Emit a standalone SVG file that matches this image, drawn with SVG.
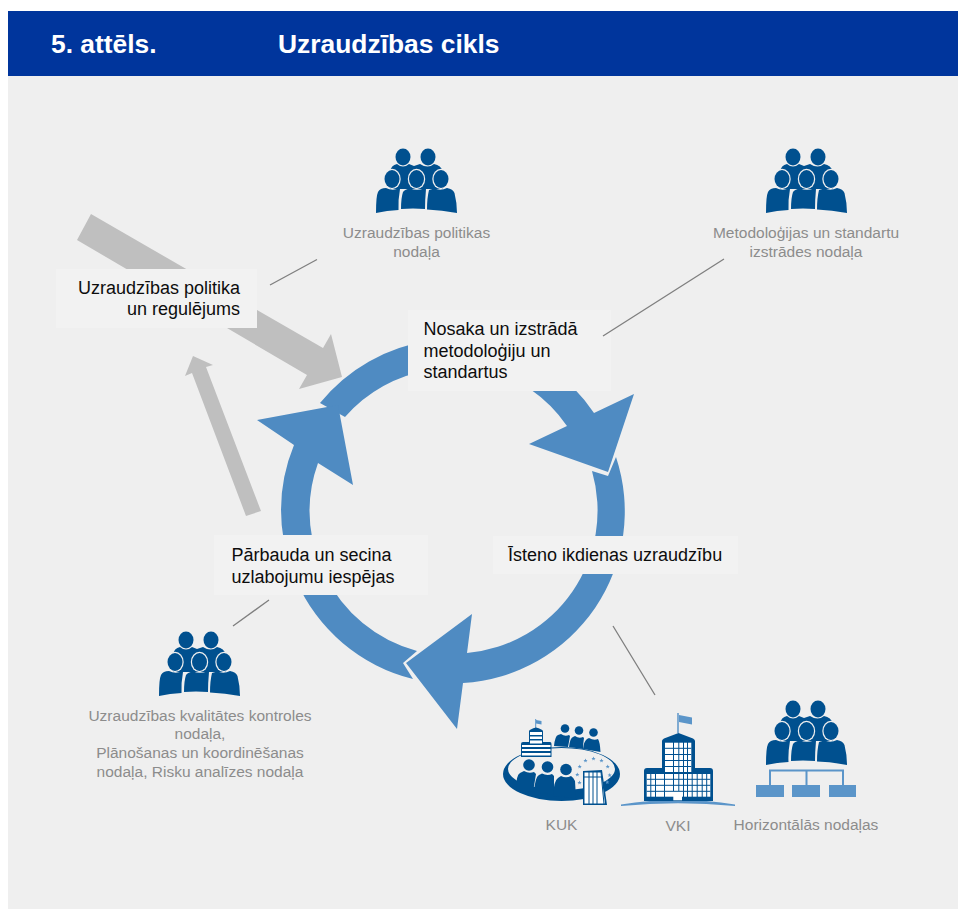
<svg xmlns="http://www.w3.org/2000/svg" width="958" height="911" viewBox="0 0 958 911">
<style>
text{font-family:"Liberation Sans",Arial,sans-serif}
.lbl{font-size:18px;fill:#0d0d0d}
.cap{font-size:15.500px;fill:#8c8c8c;text-anchor:middle}
.hd{font-size:26.400px;font-weight:bold;fill:#fff}
.box{fill:#f2f2f2}
.ring{fill:#4f8bc2}
.grey{fill:#bfbfbf}
.ln{stroke:#7f7f7f;stroke-width:1.3;fill:none}
.dk{fill:#00508f}
.lb{fill:#5b95c9}
.wl{stroke:#00508f;stroke-width:1;fill:none}
.wh{fill:#fff}
</style>
<defs>
<g id="people">
<ellipse class="dk" cx="27" cy="9" rx="7.500" ry="8.500"/>
<ellipse class="dk" cx="52" cy="9" rx="7.500" ry="8.500"/>
<path class="dk" d="M14,24Q15,17 21,16Q27,21 33,16L38,18L44,16Q52,21 58,16Q65,17 67,24V41H14Z"/>
<ellipse fill="#efefef" cx="16" cy="31" rx="8.700" ry="10.200"/>
<ellipse fill="#efefef" cx="40.500" cy="31" rx="8.700" ry="10.200"/>
<ellipse fill="#efefef" cx="65" cy="31" rx="8.700" ry="10.200"/>
<ellipse class="dk" cx="16" cy="31" rx="7.500" ry="9"/>
<ellipse class="dk" cx="40.500" cy="31" rx="7.500" ry="9"/>
<ellipse class="dk" cx="65" cy="31" rx="7.500" ry="9"/>
<path class="dk" d="M0,65Q0,48 2,44Q4,40 10,40Q16,43 23,40.500L24,41Q22,52 22.500,62Q11,62.500 0,65Z"/>
<path class="dk" d="M25,61Q25,50 27,44Q29,41 34,40.500Q41,43 48,40.500L50,41Q49,52 49,61Q37,60 25,61Z"/>
<path class="dk" d="M51,61.500Q51,50 53,42L58,40.500Q65,43 71,40Q77,41 78.500,45Q81,55 81,65Q66,62 51,61.500Z"/>
</g>
<path id="star" d="M0,-2.200L.6,-.7 2.100,-.7 .9,.3 1.300,1.800 0,.9-1.300,1.800-.9,.3-2.100,-.7-.6,-.7Z" fill="#5b95c9"/>
</defs>
<rect width="958" height="911" fill="#fff"/>
<rect id="panel" x="8" y="76" width="950" height="833" fill="#efefef"/>
<g id="header">
<rect x="8" y="11" width="950" height="65" fill="#00359c"/>
<text class="hd" x="51" y="53">5. attēls.</text>
<text class="hd" x="278" y="53">Uzraudzības cikls</text>
</g>
<g id="connectors">
<path class="grey" d="M91,214 323,348 331,334 342,377 299,389 307,375 77,240Z"/>
<path class="grey" d="M246,516 261,511 206,367 213,365 193,356 185,376 192,373Z"/>
<path class="ring" d="M430,340.700A172,172 0 0 0 320,403L345,417A143,143 0 0 1 430,370Z"/>
<path class="ring" d="M550,368A172,172 0 0 1 594,413L634,394 608,472 529,444 567,426A143,143 0 0 0 530,389Z"/>
<path class="ring" d="M616,457A172,172 0 0 1 463,683L457,729 406,663 472,614 467,653A143,143 0 0 0 592,471L608,476Z"/>
<path class="ring" d="M296,580A172,172 0 0 0 413,679L403,663 417,651A143,143 0 0 1 325,575Z"/>
<path class="ring" d="M283.700,540A172,172 0 0 1 294,445L257,420 338,405 353,485 318,463A143,143 0 0 0 312.500,540Z"/>
</g>
<g id="node-policy">
<rect class="box" x="56" y="269" width="201" height="59"/>
<text class="lbl" text-anchor="end" x="240" y="294">Uzraudzības politika</text>
<text class="lbl" text-anchor="end" x="240" y="315">un regulējums</text>
</g>
<g id="node-method">
<rect class="box" x="408" y="310" width="203" height="81"/>
<text class="lbl" x="423.500" y="335">Nosaka un izstrādā</text>
<text class="lbl" x="423.500" y="357">metodoloģiju un</text>
<text class="lbl" x="423.500" y="378">standartus</text>
</g>
<g id="node-check">
<rect class="box" x="214" y="535" width="214" height="60"/>
<text class="lbl" x="231.500" y="561">Pārbauda un secina</text>
<text class="lbl" x="231.500" y="583">uzlabojumu iespējas</text>
</g>
<g id="node-daily">
<rect class="box" x="493" y="536" width="245" height="38"/>
<text class="lbl" x="508" y="561">Īsteno ikdienas uzraudzību</text>
</g>
<g id="leader-lines">
<path class="ln" d="M270,285 317,259.500M603,336 724,259M233,626 269,600M613,626 655,695"/>
</g>
<g id="node-policy-dept">
<use href="#people" x="376" y="148"/>
<text class="cap" x="416.500" y="238">Uzraudzības politikas</text>
<text class="cap" x="416.500" y="257">nodaļa</text>
</g>
<g id="node-method-dept">
<use href="#people" x="766" y="148"/>
<text class="cap" x="806" y="238">Metodoloģijas un standartu</text>
<text class="cap" x="806" y="257">izstrādes nodaļa</text>
</g>
<g id="node-quality-dept">
<use href="#people" x="159" y="631"/>
<text class="cap" x="200" y="721">Uzraudzības kvalitātes kontroles</text>
<text class="cap" x="200" y="739">nodaļa,</text>
<text class="cap" x="200" y="758">Plānošanas un koordinēšanas</text>
<text class="cap" x="200" y="777">nodaļa, Risku analīzes nodaļa</text>
</g>
<g id="node-kuk">
<path class="dk" fill-rule="evenodd" d="M503,774A58.500,27 0 1 0 620,774A58.500,27 0 1 0 503,774ZM508,769A53.500,21 0 1 1 615,769A53.500,21 0 1 1 508,769Z"/>
<circle class="dk" cx="565" cy="728.500" r="4.300"/><circle class="dk" cx="579" cy="730.500" r="4.300"/><circle class="dk" cx="593.500" cy="732.500" r="4.300"/>
<path class="dk" d="M554,746Q555,736 558,735L561,734Q565,737 569,735L570,736Q569,742 568,747Z"/>
<path class="dk" d="M569,747Q570,738 573,737L575,736Q579,739 583,737L584,738Q583,744 583,749Z"/>
<path class="dk" d="M583,749Q584,741 587,739L589,738Q594,741 598,739Q600,742 600.500,752Z"/>
<path d="M535.700,719V728" stroke="#5b95c9" stroke-width="1" fill="none"/>
<path class="lb" d="M536,720 541.500,721V724.500L536,723.500Z"/>
<path class="dk" d="M529,742V731Q530,729 536,727.500Q542,729 543,731V742H550Q551.500,742 551.500,744V757H521V744Q521,742 523,742Z"/>
<path class="wh" d="M530,732H542V735H530ZM530,736.500H542V739H530ZM530,740.500H542V743.500H530ZM522,745H550.500V747H522ZM522,749H550.500V751H522ZM522,753H550.500V755.500H522Z"/>
<circle class="dk" cx="529" cy="765" r="5.800"/><circle class="dk" cx="547.500" cy="767" r="5.800"/><circle class="dk" cx="566" cy="769.500" r="5.800"/>
<path class="dk" d="M516,790Q516,775 520,773L524,771Q529,774 534,772L536,774 533,792Z"/>
<path class="dk" d="M534,792Q535,777 539,775L542,773.500Q547,776 552,774L554,776V795Z"/>
<path class="dk" d="M553,796Q554,780 558,778L561,776Q566,778.500 571,776Q574,778 575,781L576,798Z"/>
<use href="#star" x="585.500" y="760.700"/><use href="#star" x="593.500" y="758.700"/><use href="#star" x="601.500" y="760.700"/><use href="#star" x="607.700" y="766.700"/><use href="#star" x="609.700" y="775.300"/><use href="#star" x="607.300" y="782.300"/><use href="#star" x="579.700" y="766.700"/><use href="#star" x="577.300" y="774.700"/><use href="#star" x="579.500" y="782.700"/>
<path class="dk" d="M583,771 602,770 607,805H583Z"/>
<path class="wh" d="M584.500,772.500H601L605,803.500H584.500Z"/>
<path class="wl" d="M584,777H602M589,772V804M593,772V804M597,772V804M601,772L604,804"/>
<text class="cap" x="561.500" y="830">KUK</text>
</g>
<g id="node-vki">
<path class="lb" d="M621,804.500Q678,795 735,804.500L735,806Q678,800.500 621,806Z"/>
<path d="M678,713V733" stroke="#5b95c9" stroke-width="1.500" fill="none"/>
<path class="lb" d="M679,715 692,717.500V724.500L679,722Z"/>
<path class="dk" d="M644,801V771Q644,768 647,768H662V741Q662,739.500 664,738.500L678.500,733L693,738.500Q695,739.500 695,741V768H710Q713,768 713,771V801Z"/>
<rect class="wh" x="665" y="742.700" width="26.300" height="29.300"/>
<rect class="wh" x="646.700" y="774" width="63.600" height="22.700"/>
<rect class="wh" x="673.300" y="791.300" width="8.700" height="9"/>
<path class="wl" d="M673.500,742V772M678.800,742V772M683.500,742V772M687.500,742V772M665,748.300H691.300M665,754.500H691.300M665,760.500H691.300M665,766.500H691.300"/>
<path class="wl" d="M650.800,774V797M655.500,774V797M664.500,774V797M673.500,774V791M678.800,774V791M683.500,774V797M687.500,774V797M692.200,774V797M697.200,774V797M702.200,774V797M706.700,774V797M646.700,779.300H710.300M646.700,785.300H710.300M646.700,791.300H710.300"/>
<text class="cap" x="678" y="831">VKI</text>
</g>
<g id="node-horizontal">
<use href="#people" x="766" y="700"/>
<path d="M770,785V770.500H843V785M806.500,770.500V785" stroke="#5b95c9" stroke-width="2" fill="none"/>
<rect class="lb" x="756" y="785" width="28" height="12"/>
<rect class="lb" x="792" y="785" width="28" height="12"/>
<rect class="lb" x="829" y="785" width="27" height="12"/>
<text class="cap" x="806" y="830">Horizontālās nodaļas</text>
</g>
</svg>
